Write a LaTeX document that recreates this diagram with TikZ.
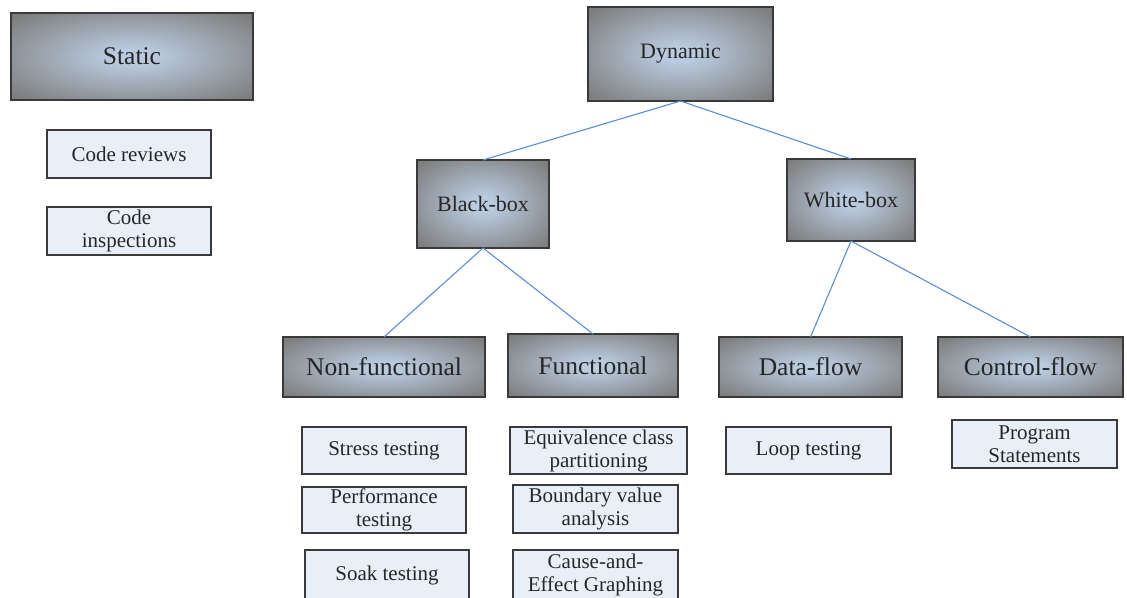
\documentclass[tikz,border=0pt]{standalone}
\usepackage{fontspec}
\setmainfont{Liberation Serif}
\newfontfamily\diagfont{Liberation Serif}

\definecolor{glowc}{HTML}{BACBE0}
\definecolor{glowe}{HTML}{7E7E7E}
\definecolor{leaffill}{HTML}{E9EFF9}
\definecolor{edgeline}{HTML}{3A3A3A}
\definecolor{linkblue}{HTML}{5B8DD6}

\pgfdeclareradialshading{boxglow}{\pgfpoint{0bp}{0bp}}{%
  color(0bp)=(glowc); color(4bp)=(glowc); color(33bp)=(glowe); color(50bp)=(glowe)}

\tikzset{
  catbox/.style={draw=edgeline, line width=1.8pt, shading=boxglow,
    inner sep=0pt, outer sep=0pt, align=center, text=black!85,
    font=\diagfont\fontsize{22}{24}\selectfont},
  subcat/.style={catbox, font=\diagfont\fontsize{25.5}{27}\selectfont},
  leaf/.style={draw=edgeline, line width=1.4pt, fill=leaffill,
    inner sep=0pt, outer sep=0pt, align=center, text=black!85,
    font=\diagfont\fontsize{21}{23}\selectfont},
  link/.style={draw=linkblue, line width=1.1pt}
}

\begin{document}
\begin{tikzpicture}[x=1pt, y=-1pt]
\useasboundingbox (0,0) rectangle (1127,597);
\clip (0,0) rectangle (1127,597);

% static techniques
\node[catbox, font=\diagfont\fontsize{25.5}{27}\selectfont, minimum width=242pt, minimum height=87pt] (static) at (132,56.5) {Static};
\node[leaf, minimum width=164pt, minimum height=48pt] (review) at (129,154) {Code reviews};
\node[leaf, minimum width=164pt, minimum height=48pt] (inspect) at (129,231) {Code\\inspections};

% dynamic techniques
\node[catbox, minimum width=185pt, minimum height=94pt] (dynamic) at (680.5,54) {Dynamic};
\node[catbox, minimum width=132pt, minimum height=88pt] (black) at (483,204) {Black-box};
\node[catbox, minimum width=128pt, minimum height=82pt] (white) at (851,200) {White-box};

\node[subcat, minimum width=202pt, minimum height=60pt] (nonfun) at (384,367) {Non-functional};
\node[subcat, minimum width=170pt, minimum height=63pt] (fun) at (593,365.5) {Functional};
\node[subcat, minimum width=183pt, minimum height=60pt] (data) at (810.5,367) {Data-flow};
\node[subcat, minimum width=185pt, minimum height=60pt] (control) at (1030.5,367) {Control-flow};

% leaf techniques
\node[leaf, minimum width=164pt, minimum height=47pt] (stress) at (384,450.5) {Stress testing};
\node[leaf, minimum width=164pt, minimum height=46pt] (perf) at (384,510) {Performance\\testing};
\node[leaf, minimum width=164pt, minimum height=50pt] (soak) at (387,575) {Soak testing};

\node[leaf, minimum width=177pt, minimum height=47pt] (equiv) at (598.5,450.5) {Equivalence class\\partitioning};
\node[leaf, minimum width=165pt, minimum height=48pt] (bound) at (595.5,509) {Boundary value\\analysis};
\node[leaf, minimum width=165pt, minimum height=50pt] (cause) at (595.5,575) {Cause-and-\\Effect Graphing};

\node[leaf, minimum width=165pt, minimum height=47pt] (loop) at (808.5,450.5) {Loop testing};
\node[leaf, minimum width=165pt, minimum height=48pt] (prog) at (1034.5,444) {Program\\Statements};

% hierarchy links
\draw[link] (dynamic.south) -- (black.north);
\draw[link] (dynamic.south) -- (white.north);
\draw[link] (black.south) -- (nonfun.north);
\draw[link] (black.south) -- (fun.north);
\draw[link] (white.south) -- (data.north);
\draw[link] (white.south) -- (control.north);
\end{tikzpicture}
\end{document}
